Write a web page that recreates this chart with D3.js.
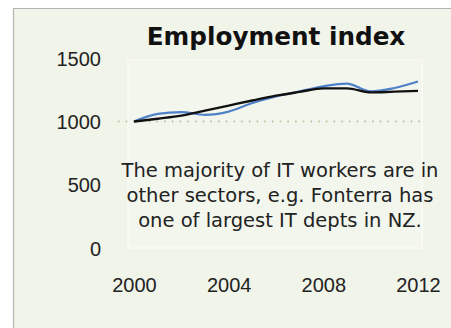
<!DOCTYPE html>
<html>
<head>
<meta charset="utf-8">
<script src="https://cdn.jsdelivr.net/npm/d3@7"></script>
<style>
  html, body { margin: 0; padding: 0; background: #ffffff; }
  svg { display: block; }
</style>
</head>
<body>
<script>
// Employment index, 2000–2012 (2000 = 1000)
const years = [2000, 2001, 2002, 2003, 2004, 2005, 2006, 2007, 2008, 2009, 2010, 2011, 2012];
const itEmployment = [1000, 1060, 1074, 1052, 1078, 1146, 1198, 1238, 1278, 1300, 1238, 1265, 1316];
const totalEmployment = [1000, 1022, 1046, 1086, 1126, 1166, 1204, 1234, 1262, 1262, 1230, 1236, 1242];
const yTicks = [0, 500, 1000, 1500];
const xTicks = [2000, 2004, 2008, 2012];
const titleText = "Employment index";
const noteLines = [
  "The majority of IT workers are in",
  "other sectors, e.g. Fonterra has",
  "one of largest IT depts in NZ."
];

const W = 451, H = 328;
const svg = d3.select("body").append("svg").attr("width", W).attr("height", H);

// panel background with a thin grey frame on the top and left
svg.append("rect").attr("x", 13).attr("y", 8).attr("width", W - 13).attr("height", H - 8)
  .attr("fill", "#f1f4e9");
svg.append("path").attr("d", `M13.5,${H} V8.5 H${W}`)
  .attr("fill", "none").attr("stroke", "#b4b4b4").attr("stroke-width", 1.2);

const x = d3.scaleLinear().domain([2000, 2012]).range([134, 418]);
const y = d3.scaleLinear().domain([0, 1500]).range([248, 58.25]);

// faint plot area
svg.append("rect")
  .attr("x", x(2000) - 6).attr("y", y(1500) + 2)
  .attr("width", x(2012) - x(2000) + 10).attr("height", y(0) - y(1500) - 2)
  .attr("fill", "#f3f6ed").attr("stroke", "#f7f9f2").attr("stroke-width", 2);

// title
svg.append("text").attr("x", 276).attr("y", 45).attr("text-anchor", "middle")
  .attr("font-family", "DejaVu Sans, sans-serif").attr("font-weight", "bold")
  .attr("font-size", 24.7).attr("fill", "#111").text(titleText);

const tickFont = "Liberation Sans, sans-serif";

// y axis labels
const yAxis = d3.axisLeft(y).tickValues(yTicks).tickSize(0).tickPadding(0).tickFormat(d3.format("d"));
const gy = svg.append("g").attr("transform", "translate(101,0)").call(yAxis);
gy.select(".domain").remove();
gy.selectAll("text").attr("font-family", tickFont).attr("font-size", 20)
  .attr("fill", "#222").attr("dy", "0.36em");

// x axis labels
const xAxis = d3.axisBottom(x).tickValues(xTicks).tickSize(0).tickPadding(0).tickFormat(d3.format("d"));
const gx = svg.append("g").attr("transform", "translate(0,278)").call(xAxis);
gx.select(".domain").remove();
gx.selectAll("text").attr("font-family", tickFont).attr("font-size", 20)
  .attr("fill", "#222").attr("dy", "0.72em");

// dotted baseline at 1000
svg.append("line").attr("x1", 118).attr("x2", 426).attr("y1", y(1000)).attr("y2", y(1000))
  .attr("stroke", "#b9c49c").attr("stroke-width", 2).attr("stroke-dasharray", "1.5,6.2");

const line = d3.line().x((d, i) => x(years[i])).y(d => y(d)).curve(d3.curveMonotoneX);

svg.append("path").datum(itEmployment).attr("d", line)
  .attr("fill", "none").attr("stroke", "#4f81c9").attr("stroke-width", 2.2);
svg.append("path").datum(totalEmployment).attr("d", line)
  .attr("fill", "none").attr("stroke", "#111").attr("stroke-width", 2.4);

// annotation
const note = svg.append("text").attr("text-anchor", "middle")
  .attr("font-family", "DejaVu Sans, sans-serif").attr("font-size", 19.5)
  .attr("fill", "#222");
noteLines.forEach((t, i) => {
  note.append("tspan").attr("x", 280).attr("y", 177 + i * 25).text(t);
});
</script>
</body>
</html>
